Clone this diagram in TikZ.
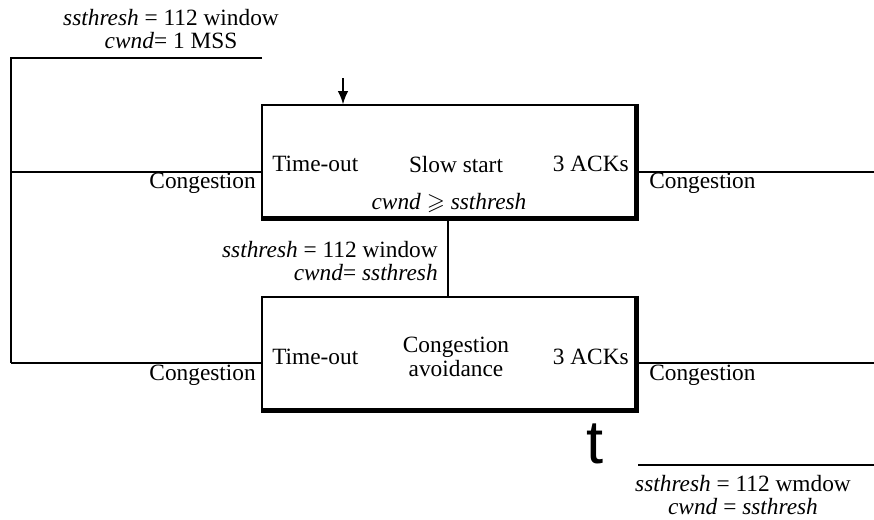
\documentclass[tikz,border=0pt]{standalone}
\usepackage{amssymb}
\usepackage{fontspec}
\setmainfont{Liberation Serif}
\newfontfamily\tfont{Liberation Sans}
\usetikzlibrary{arrows.meta}
\begin{document}
\begin{tikzpicture}[x=0.75pt,y=-0.75pt,
  txt/.style={inner sep=0pt,font=\fontsize{17.5pt}{17.5pt}\selectfont},
  statebox/.style={draw,line width=0.8pt,minimum width=280.5pt,minimum height=84.75pt,inner sep=0pt},
  thin/.style={line width=0.8pt},
  heavy/.style={line width=3.5pt},
  mid/.style={line width=2.2pt}]
\useasboundingbox (0,0) rectangle (874,519);
% boxes
\node[statebox] (ss) at (449,161.5) {};
\node[statebox] (ca) at (449,353.5) {};
\draw[heavy] ([yshift=0.4pt]ss.north east) -- (ss.south east) -- ([xshift=-0.4pt]ss.south west);
\draw[heavy] ([yshift=0.4pt]ca.north east) -- (ca.south east) -- ([xshift=-0.4pt]ca.south west);
% box texts
\node[txt,anchor=west] (to1) at (272,164) {Time-out};
\node[txt] (sslab) at (456,165) {Slow start};
\node[txt,anchor=east] (ack1) at (629,164) {3 ACKs};
\node[txt] (cond) at (449,203) {\textit{cwnd} $\geqslant$ \textit{ssthresh}};
\node[txt,anchor=west] (to2) at (272,357) {Time-out};
\node[txt,align=center] (calab) at (456,357) {Congestion\\avoidance};
\node[txt,anchor=east] (ack2) at (629,357) {3 ACKs};
% outer loop
\coordinate (tl) at (11,58);
\coordinate (tr) at (262,58);
\coordinate (lm) at (11,297);
\coordinate (l1) at (11,172);
\coordinate (l2) at (11,363);
\coordinate (r1) at (874,172);
\coordinate (r2) at (874,363);
\draw[mid] (tr) -- (tl) -- (lm);
\draw[thin] (lm) -- (l2);
\draw[thin] (l1) -- (ss.west |- l1);
\draw[thin] (l2) -- (ca.west |- l2);
\draw[thin] (ss.east |- r1) -- (r1);
\draw[thin] (ca.east |- r2) -- (r2);
% arrow into slow start
\coordinate (ain) at (343,78);
\draw[line width=1.6pt,-{Latex[length=10pt,width=8pt]}] (ain) -- (ain |- ss.north);
% link between boxes
\draw[line width=1.2pt] (448,218) -- (448,297);
% labels
\node[txt,anchor=east] (c1) at (256,183) {Congestion};
\node[txt,anchor=west] (c2) at (649,183) {Congestion};
\node[txt,anchor=east] (c3) at (256,375) {Congestion};
\node[txt,anchor=west] (c4) at (649,375) {Congestion};
\node[txt,align=center] (top) at (171,29) {\textit{ssthresh} = 112 window\\\textit{cwnd}= 1 MSS};
\node[txt,align=right,anchor=east] (midt) at (438,261) {\textit{ssthresh} = 112 window\\\textit{cwnd}= \textit{ssthresh}};
% bottom right
\node[inner sep=0pt,font=\tfont\fontsize{46pt}{46pt}\selectfont] (t) at (595,444) {t};
\coordinate (bl) at (638,465);
\coordinate (br) at (874,465);
\draw[mid] (bl) -- (br);
\node[txt,align=center] (bt) at (743,495) {\textit{ssthresh} = 112 wmdow\\\textit{cwnd} = \textit{ssthresh}};
\end{tikzpicture}
\end{document}
